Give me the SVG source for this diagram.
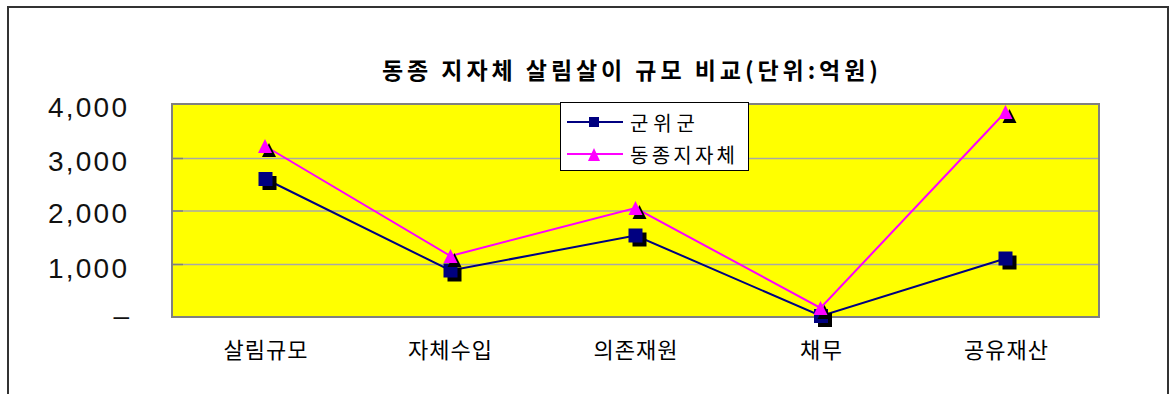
<svg xmlns="http://www.w3.org/2000/svg" width="1170" height="394" viewBox="0 0 1170 394">
<defs>
<style>
.ko{font-family:"Noto Sans CJK KR","Noto Sans",sans-serif;fill:#000}
.num{font-family:"Liberation Sans",Arial,sans-serif;font-size:28px;fill:#111}
.grid{stroke:#A8A8A8;stroke-width:1.5}
.tick{stroke:#808080;stroke-width:1.5}
.s1{fill:none;stroke:#000080;stroke-width:2}
.s2{fill:none;stroke:#FF00FF;stroke-width:2}
</style>
<rect id="sq" x="-7" y="-7" width="14" height="14"/>
<polygon id="tri" points="0,-7 7,7 -7,7"/>
</defs>
<rect x="0" y="0" width="1170" height="394" fill="#fff"/>
<rect id="frame" x="8" y="7" width="1160" height="400" fill="none" stroke="#333" stroke-width="2"/>
<text id="title" class="ko" x="630" y="79" font-size="23" font-weight="bold" text-anchor="middle" textLength="496" lengthAdjust="spacing">동종 지자체 살림살이 규모 비교(단위:억원)</text>
<g id="plot">
<rect x="172" y="104" width="927" height="213" fill="#FFFF00"/>
<line class="grid" x1="172" y1="158.5" x2="1099" y2="158.5"/>
<line class="grid" x1="172" y1="211" x2="1099" y2="211"/>
<line class="grid" x1="172" y1="264.5" x2="1099" y2="264.5"/>
<line class="tick" x1="172" y1="158.5" x2="183" y2="158.5"/>
<line class="tick" x1="172" y1="211" x2="183" y2="211"/>
<line class="tick" x1="172" y1="264.5" x2="183" y2="264.5"/>
<rect x="172" y="104" width="927" height="213" fill="none" stroke="#808080" stroke-width="2"/>
</g>
<g id="yaxis">
<text class="num" x="127" y="117" text-anchor="end" textLength="79" lengthAdjust="spacing">4,000</text>
<text class="num" x="127" y="171" text-anchor="end" textLength="79" lengthAdjust="spacing">3,000</text>
<text class="num" x="127" y="223" text-anchor="end" textLength="79" lengthAdjust="spacing">2,000</text>
<text class="num" x="127" y="278" text-anchor="end" textLength="79" lengthAdjust="spacing">1,000</text>
<text class="num" x="129" y="325" text-anchor="end">–</text>
</g>
<g id="xaxis" class="ko" font-size="22" text-anchor="middle">
<text x="265.5" y="358" textLength="84" lengthAdjust="spacing">살림규모</text>
<text x="450" y="358" textLength="84" lengthAdjust="spacing">자체수입</text>
<text x="635.5" y="358" textLength="84" lengthAdjust="spacing">의존재원</text>
<text x="821" y="358" textLength="42" lengthAdjust="spacing">채무</text>
<text x="1006" y="358" textLength="84" lengthAdjust="spacing">공유재산</text>
</g>
<g id="connectors">
<polyline id="line-gunwi" class="s1" points="265.5,179 450.5,270.5 635.5,235.5 821,316 1005.5,258.5"/>
<polyline id="line-dongjong" class="s2" points="265,146 450.5,256 635.5,208 820.5,308 1005.5,112"/>
</g>
<g id="markers-gunwi">
<use href="#sq" x="269.5" y="183" fill="#000"/><use href="#sq" x="265.5" y="179" fill="#000080"/>
<use href="#sq" x="454.5" y="274.5" fill="#000"/><use href="#sq" x="450.5" y="270.5" fill="#000080"/>
<use href="#sq" x="639.5" y="239.5" fill="#000"/><use href="#sq" x="635.5" y="235.5" fill="#000080"/>
<use href="#sq" x="825" y="320" fill="#000"/><use href="#sq" x="821" y="316" fill="#000080"/>
<use href="#sq" x="1009.5" y="262.5" fill="#000"/><use href="#sq" x="1005.5" y="258.5" fill="#000080"/>
</g>
<g id="markers-dongjong">
<use href="#tri" x="269" y="150" fill="#000"/><use href="#tri" x="265" y="146" fill="#FF00FF"/>
<use href="#tri" x="454.5" y="260" fill="#000"/><use href="#tri" x="450.5" y="256" fill="#FF00FF"/>
<use href="#tri" x="639.5" y="212" fill="#000"/><use href="#tri" x="635.5" y="208" fill="#FF00FF"/>
<use href="#tri" x="824.5" y="312" fill="#000"/><use href="#tri" x="820.5" y="308" fill="#FF00FF"/>
<use href="#tri" x="1009.5" y="116" fill="#000"/><use href="#tri" x="1005.5" y="112" fill="#FF00FF"/>
</g>
<g id="legend">
<rect x="560.5" y="102.5" width="188" height="68" fill="#fff" stroke="#000" stroke-width="1"/>
<line x1="567" y1="122" x2="623" y2="122" stroke="#000080" stroke-width="2"/>
<rect x="589" y="117" width="10" height="10" fill="#000080"/>
<line x1="567" y1="154" x2="623" y2="154" stroke="#FF00FF" stroke-width="2"/>
<polygon points="594,148 600,161 588,161" fill="#FF00FF"/>
<text class="ko" x="630" y="131" font-size="20" textLength="65" lengthAdjust="spacing">군위군</text>
<text class="ko" x="630" y="163" font-size="20" textLength="105" lengthAdjust="spacing">동종지자체</text>
</g>
</svg>
